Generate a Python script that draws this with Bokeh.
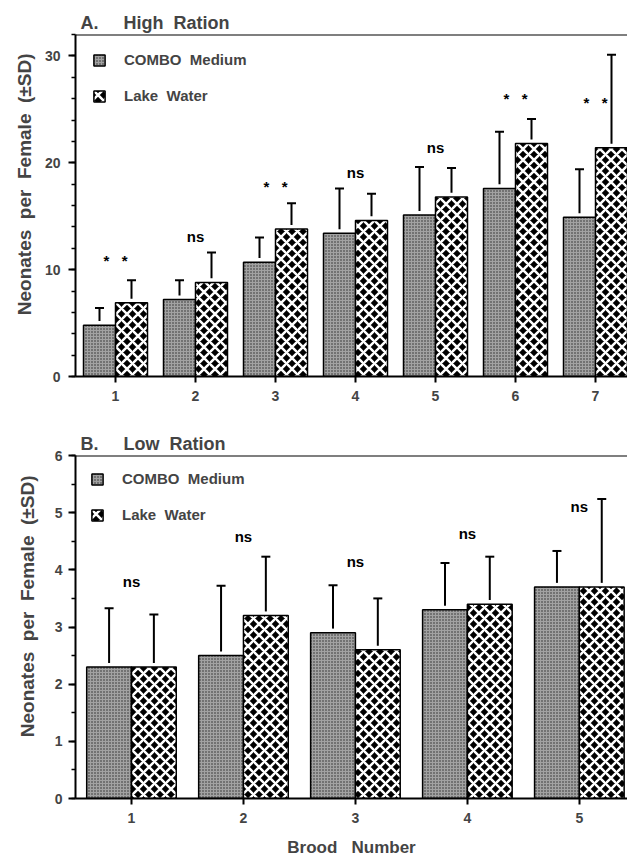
from bokeh.plotting import figure
from bokeh.models import (ColumnDataSource, Whisker, TeeHead, Span, Legend, LegendItem,
                          SingleIntervalTicker, FixedTicker, Range1d, Title)
from bokeh.layouts import column
from bokeh.embed import file_html
from bokeh.resources import INLINE
from bokeh.core.properties import value

# ---------------- data ----------------
high_brood = [1, 2, 3, 4, 5, 6, 7]
high_combo_mean = [4.8, 7.2, 10.7, 13.4, 15.1, 17.6, 14.9]
high_combo_sd = [1.6, 1.8, 2.3, 4.2, 4.5, 5.3, 4.5]
high_lake_mean = [6.9, 8.8, 13.8, 14.6, 16.8, 21.8, 21.4]
high_lake_sd = [2.1, 2.8, 2.4, 2.5, 2.7, 2.3, 8.7]
high_sig = ["*\u00a0\u00a0 *", "ns", "*\u00a0\u00a0 *", "ns", "ns", "*\u00a0\u00a0 *", "*\u00a0\u00a0 *"]
high_sig_y = [10.9, 13.1, 17.8, 19.1, 21.4, 26.0, 25.6]

low_brood = [1, 2, 3, 4, 5]
low_combo_mean = [2.3, 2.5, 2.9, 3.3, 3.7]
low_combo_sd = [1.03, 1.22, 0.83, 0.82, 0.63]
low_lake_mean = [2.3, 3.2, 2.6, 3.4, 3.7]
low_lake_sd = [0.92, 1.03, 0.9, 0.83, 1.54]
low_sig = ["ns", "ns", "ns", "ns", "ns"]
low_sig_y = [3.79, 4.58, 4.14, 4.63, 5.11]

series_names = ["COMBO\u00a0 Medium", "Lake\u00a0 Water"]
titles = ["A.\u00a0\u00a0\u00a0\u00a0 High\u00a0 Ration", "B.\u00a0\u00a0\u00a0\u00a0 Low\u00a0 Ration"]
y_label = "Neonates\u00a0 per\u00a0 Female\u00a0 (±SD)"
x_label = "Brood\u00a0\u00a0 Number"

FONT = "Liberation Sans"


def panel(broods, cm, cs, lm, ls, sig, sig_y, ymax, interval, nminor, title,
          xend, height, mb_left, mb_top, mb_bottom, ylab_standoff, lab_standoff,
          legend_margin, ylab_offset, xlabel=None):
    p = figure(width=627, height=height, x_range=Range1d(0.5, xend),
               y_range=Range1d(0, ymax), output_backend="svg", toolbar_location=None,
               min_border_left=mb_left, min_border_right=0, min_border_top=mb_top,
               min_border_bottom=mb_bottom)
    p.outline_line_color = None
    p.grid.visible = False
    p.background_fill_color = "white"
    p.border_fill_color = "white"

    p.title.text = title
    p.title.text_font = FONT
    p.title.text_font_style = "bold"
    p.title.text_font_size = "18px"
    p.title.align = "left"
    p.title.offset = 5
    p.title.standoff = 4

    ytitle = Title(text=y_label, align="right", offset=ylab_offset, standoff=ylab_standoff,
                   text_font=FONT, text_font_style="bold", text_font_size="19px")
    p.add_layout(ytitle, "left")

    gap = ymax * 0.012
    src = ColumnDataSource(dict(
        brood=broods,
        xc=[b - 0.2 for b in broods],
        xl=[b + 0.2 for b in broods],
        cm=cm, lm=lm,
        c_low=[m + gap for m in cm],
        l_low=[m + gap for m in lm],
        c_top=[m + s for m, s in zip(cm, cs)],
        l_top=[m + s for m, s in zip(lm, ls)],
        sig=sig, sig_y=sig_y,
    ))

    r1 = p.vbar(x="xc", top="cm", bottom=0, width=0.4, source=src,
                fill_color="#a2a2a2", hatch_pattern="dot", hatch_color="#2a2a2a",
                hatch_scale=3, hatch_weight=1, line_color="black", line_width=1.5)
    r2 = p.vbar(x="xl", top="lm", bottom=0, width=0.4, source=src,
                fill_color="black", hatch_pattern="diagonal_cross", hatch_color="white",
                hatch_scale=11, hatch_weight=2.5, line_color="black", line_width=1.5)

    for base, low, up in (("xc", "c_low", "c_top"), ("xl", "l_low", "l_top")):
        w = Whisker(source=src, base=base, lower=low, upper=up, line_width=2,
                    line_color="black",
                    upper_head=TeeHead(size=9, line_width=2, line_color="black"),
                    lower_head=None)
        p.add_layout(w)

    p.text(x="brood", y="sig_y", text="sig", source=src, text_font=value(FONT),
           text_font_style="bold", text_font_size="15px", text_align="center",
           text_baseline="middle", text_color="black")

    p.add_layout(Span(location=ymax, dimension="width", line_color="black", line_width=2))

    # axes
    xa = p.xaxis[0]
    xa.ticker = FixedTicker(ticks=broods)
    xa.major_label_text_font = FONT
    xa.major_label_text_font_style = "bold"
    xa.major_label_text_font_size = "14px"
    xa.major_label_standoff = 8
    xa.major_tick_out = 6
    xa.major_tick_in = 0
    xa.minor_tick_line_color = None
    xa.axis_line_width = 2
    xa.major_tick_line_width = 2
    if xlabel:
        xa.axis_label = xlabel
        xa.axis_label_text_font = FONT
        xa.axis_label_text_font_style = "bold"
        xa.axis_label_text_font_size = "17px"
        xa.axis_label_standoff = 12

    ya = p.yaxis[0]
    ya.ticker = SingleIntervalTicker(interval=interval, num_minor_ticks=nminor)
    ya.major_label_text_font = FONT
    ya.major_label_text_font_style = "bold"
    ya.major_label_text_font_size = "14px"
    ya.major_label_standoff = lab_standoff
    ya.major_tick_out = 7
    ya.major_tick_in = 0
    ya.minor_tick_out = 4
    ya.minor_tick_in = 0
    ya.axis_line_width = 2
    ya.major_tick_line_width = 2
    ya.minor_tick_line_width = 1.5

    legend = Legend(items=[LegendItem(label=series_names[0], renderers=[r1]),
                           LegendItem(label=series_names[1], renderers=[r2])],
                    location="top_left", margin=legend_margin, padding=0,
                    border_line_color=None, background_fill_alpha=0,
                    glyph_width=14, glyph_height=14, label_standoff=18,
                    label_text_font=FONT, label_text_font_style="bold",
                    label_text_font_size="15px", label_height=14, spacing=19)
    p.add_layout(legend)
    return p


p1 = panel(high_brood, high_combo_mean, high_combo_sd, high_lake_mean, high_lake_sd,
           high_sig, high_sig_y, 32, 10, 5, titles[0], 7.4, 420, 75, 34, 44, 13, 8, 17, 19)
p2 = panel(low_brood, low_combo_mean, low_combo_sd, low_lake_mean, low_lake_sd,
           low_sig, low_sig_y, 6, 1, 2, titles[1], 5.43, 439, 73, 35, 61, 27, 6, 15, 20,
           xlabel=x_label)

layout = column(p1, p2, spacing=0)
open("out.html", "w").write(file_html(layout, INLINE))
